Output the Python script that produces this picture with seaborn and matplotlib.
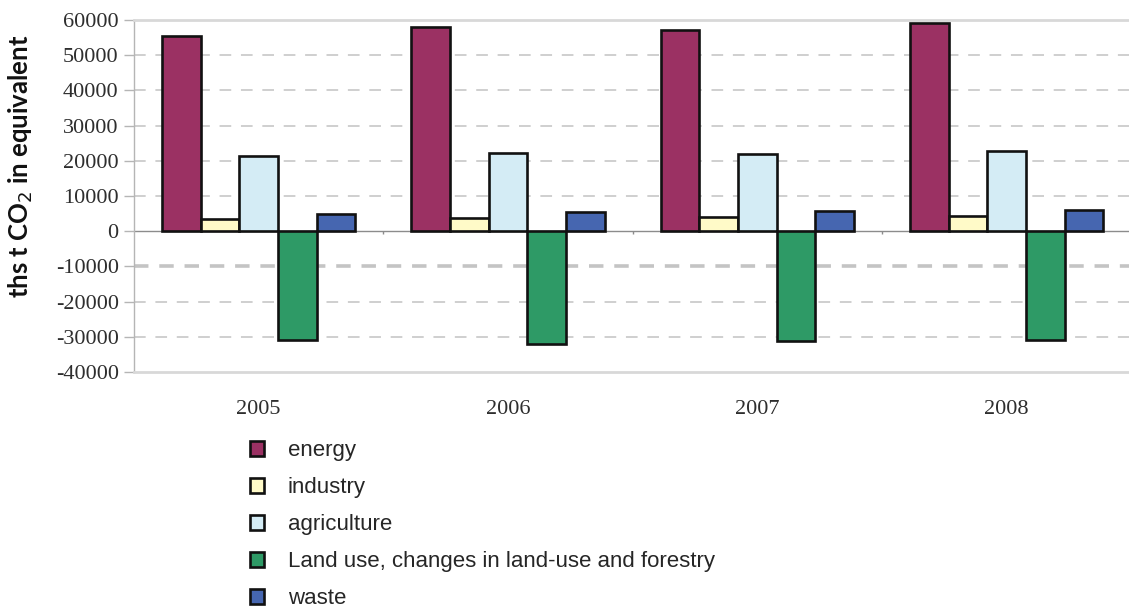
import matplotlib
matplotlib.use("Agg")
import matplotlib.pyplot as plt
import seaborn as sns
import pandas as pd

# Greenhouse gas emissions by sector, thousand tonnes CO2 equivalent
years = ["2005", "2006", "2007", "2008"]
sectors = ["energy", "industry", "agriculture",
           "Land use, changes in land-use and forestry", "waste"]
energy = [55400, 58000, 57100, 59100]
industry = [3400, 3700, 4000, 4300]
agriculture = [21300, 22100, 21900, 22700]
land_use = [-31000, -32100, -31200, -31000]
waste = [4800, 5400, 5700, 6000]
y_ticks = [60000, 50000, 40000, 30000, 20000, 10000, 0,
           -10000, -20000, -30000, -40000]

colors = ["#9B3163", "#FFFAC8", "#D4ECF5", "#2E9A66", "#4666B0"]

rows = []
for sector, vals in zip(sectors, [energy, industry, agriculture, land_use, waste]):
    for yr, v in zip(years, vals):
        rows.append({"year": yr, "sector": sector, "value": v})
df = pd.DataFrame(rows)

sns.set_theme(style="white")
plt.rcParams["font.family"] = ["Liberation Serif", "DejaVu Serif"]

fig = plt.figure(figsize=(11.29, 6.09), dpi=100)
ax = fig.add_axes([134 / 1129, 1 - 372 / 609, 1 - 134 / 1129 + 0.002, (372 - 20) / 609])

sns.barplot(data=df, x="year", y="value", hue="sector", order=years,
            hue_order=sectors, palette=colors, width=0.775, gap=0,
            edgecolor="#111111", linewidth=1.9, saturation=1, ax=ax, legend=True)

ax.set_ylim(-40000, 60000)
ax.set_xlim(-0.5, len(years) - 0.5)
ax.set_yticks(y_ticks)
ax.set_yticklabels([str(t) for t in y_ticks])

# grid lines
for t in y_ticks:
    if t in (60000, -40000):
        continue
    if t == 0:
        ax.axhline(0, color="#8c8c8c", lw=1.0, zorder=0.5)
    elif t == -10000:
        ax.axhline(t, color="#c4c4c4", lw=2.6, ls=(0, (4, 3)), zorder=0.5)
    else:
        ax.axhline(t, color="#cfcfcf", lw=1.4, ls=(0, (6, 5)), zorder=0.5)

# small separators between year groups on the zero line
ax.vlines([i + 0.5 for i in range(len(years) - 1)], -900, 0,
          color="#8c8c8c", lw=1.0, zorder=0.6)

for side in ["top", "bottom"]:
    ax.spines[side].set_color("#d8d8d8")
    ax.spines[side].set_linewidth(2.0)
ax.spines["right"].set_visible(False)
ax.spines["left"].set_color("#b5b5b5")
ax.spines["left"].set_linewidth(1.0)

ax.tick_params(axis="y", length=7, width=1.0, color="#b5b5b5", pad=4,
               labelsize=16, labelcolor="#2e2e2e", left=True)
ax.tick_params(axis="x", length=0, pad=20, labelsize=16, labelcolor="#2e2e2e")
ax.set_xlabel("")
ax.set_ylabel("ths t CO$_2$ in equivalent", family=["Lato", "DejaVu Sans"],
              fontweight="bold", fontsize=18.5, color="#111111")
ax.yaxis.set_label_coords(-0.099, 0.585)

handles, labels = ax.get_legend_handles_labels()
ax.get_legend().remove()
fig.legend(handles, labels, loc="upper left",
           bbox_to_anchor=(250 / 1129, 1 - 440 / 609), frameon=False,
           prop={"family": ["Liberation Sans", "DejaVu Sans"], "size": 16},
           handlelength=0.65, handleheight=0.65, handletextpad=1.05,
           labelspacing=0.72, borderpad=0, borderaxespad=0)

fig.savefig("out.png", dpi=100)
